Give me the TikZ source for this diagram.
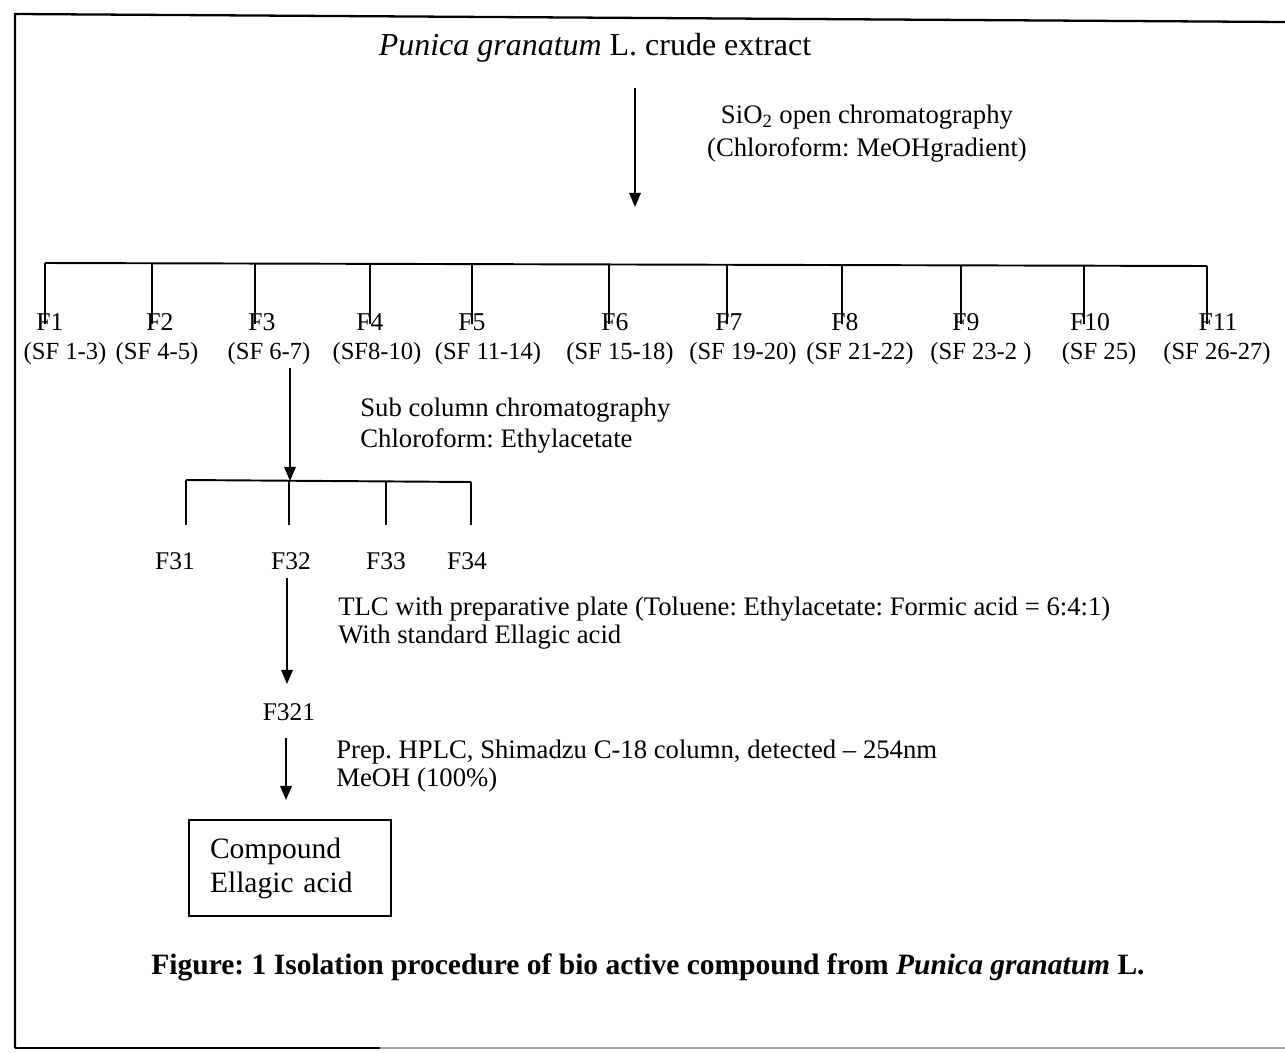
\documentclass[tikz,border=0pt]{standalone}
\usepackage{fontspec}
\setmainfont{Liberation Serif}
\usetikzlibrary{arrows.meta}
\begin{document}
\frenchspacing
\begin{tikzpicture}[x=0.02cm,y=-0.02cm,
  ln/.style={line width=1.1pt},
  arr/.style={line width=1.1pt,-{Triangle[length=8pt,width=6.5pt]}},
  note/.style={inner sep=0pt,align=left,font=\fontsize{15.2}{17.5}\selectfont},
  flab/.style={inner sep=0pt,anchor=base,font=\fontsize{14.6}{16}\selectfont},
  slab/.style={inner sep=0pt,anchor=base,font=\fontsize{14}{16}\selectfont},
  fsub/.style={inner sep=0pt,anchor=base,font=\fontsize{14.5}{16}\selectfont}]
\useasboundingbox (0,0) rectangle (1285,1052);
% frame
\draw[line width=1.3pt] (1285,22) -- (15,14) -- (15,1048);
\draw[line width=1.3pt,gray!70] (15,1048) -- (1285,1048);
\draw[line width=1.3pt] (15,1048) -- (380,1048);
% title
\node[inner sep=0pt,font=\fontsize{18.2}{21}\selectfont] (title) at (595,48) {\textit{Punica granatum} L. crude extract};
\coordinate (a1s) at (635,88);
\coordinate (a1e) at (635,207);
\draw[arr] (a1s) -- (a1e);
\node[inner sep=0pt,align=center,font=\fontsize{15.2}{18.8}\selectfont] (sio) at (867,134)
  {SiO\textsubscript{2} open chromatography\\(Chloroform: MeOHgradient)};
% main bus
\coordinate (bl) at (45,263);
\coordinate (br) at (1207,266);
\draw[ln] (bl) -- (br);
\foreach \n/\tx/\fx/\sx/\lab/\slabtext in {
  1/45/50/65/F1/(SF 1-3),
  2/152/160/157/F2/(SF 4-5),
  3/255/262/269/F3/(SF 6-7),
  4/370/370/377/F4/(SF8-10),
  5/472/472/488/F5/(SF 11-14),
  6/609/615/620/F6/(SF 15-18),
  7/727/729/743/F7/(SF 19-20),
  8/842/845/860/F8/(SF 21-22),
  9/961/966/981/F9/(SF 23-2 ),
  10/1084/1090/1099/F10/(SF 25),
  11/1207/1218/1217/F11/(SF 26-27)}{
  \coordinate (t\n) at ({\tx},{263+3*(\tx-45)/1162});
  \coordinate (u\n) at ({\tx},324);
  \node[flab] (f\n) at (\fx,330) {\lab};
  \node[slab] (sf\n) at (\sx,359) {\slabtext};
  \draw[ln] (t\n) -- (u\n);
}
% sub column
\coordinate (a2s) at (290,368);
\coordinate (sbl) at (186,480);
\coordinate (sbr) at (471,482);
\coordinate (a2e) at (290,481);
\draw[arr] (a2s) -- (a2e);
\draw[ln] (sbl) -- (sbr);
\node[note,anchor=west,font=\fontsize{15.2}{17.6}\selectfont] (sub) at (360,426)
  {Sub column chromatography\\Chloroform: Ethylacetate};
\foreach \n/\tx/\fx/\lab in {1/186/175/F31,2/289/291/F32,3/386/386/F33,4/471/467/F34}{
  \coordinate (st\n) at ({\tx},{480+2*(\tx-186)/285});
  \coordinate (se\n) at (\tx,525);
  \draw[ln] (st\n) -- (se\n);
  \node[fsub] (f3\n) at (\fx,569) {\lab};
}
% TLC
\coordinate (a3s) at (287,578);
\coordinate (a3e) at (287,684);
\draw[arr] (a3s) -- (a3e);
\node[note,anchor=west,font=\fontsize{15.2}{16}\selectfont] (tlc) at (338,623)
  {TLC with preparative plate (Toluene: Ethylacetate: Formic acid = 6:4:1)\\With standard Ellagic acid};
\node[fsub] (f321) at (289,720) {F321};
% HPLC
\coordinate (a4s) at (286,738);
\coordinate (a4e) at (286,800);
\draw[arr] (a4s) -- (a4e);
\node[note,anchor=west,font=\fontsize{15.2}{15.5}\selectfont] (prep) at (336,766)
  {Prep. HPLC, Shimadzu C-18 column, detected -- 254nm\\MeOH (100\%)};
% result box
\node[draw,line width=1.1pt,minimum width=4.04cm,minimum height=1.92cm,text width=3.2cm,
  inner xsep=0.42cm,align=left,font=\fontsize{16.8}{19.4}\selectfont] (box) at (290,868)
  {Compound\\Ellagic acid};
% caption
\node[inner sep=0pt,font=\bfseries\fontsize{16.8}{19}\selectfont] (cap) at (648,967)
  {Figure: 1 Isolation procedure of bio active compound from \textit{Punica granatum} L.};
\end{tikzpicture}
\end{document}
